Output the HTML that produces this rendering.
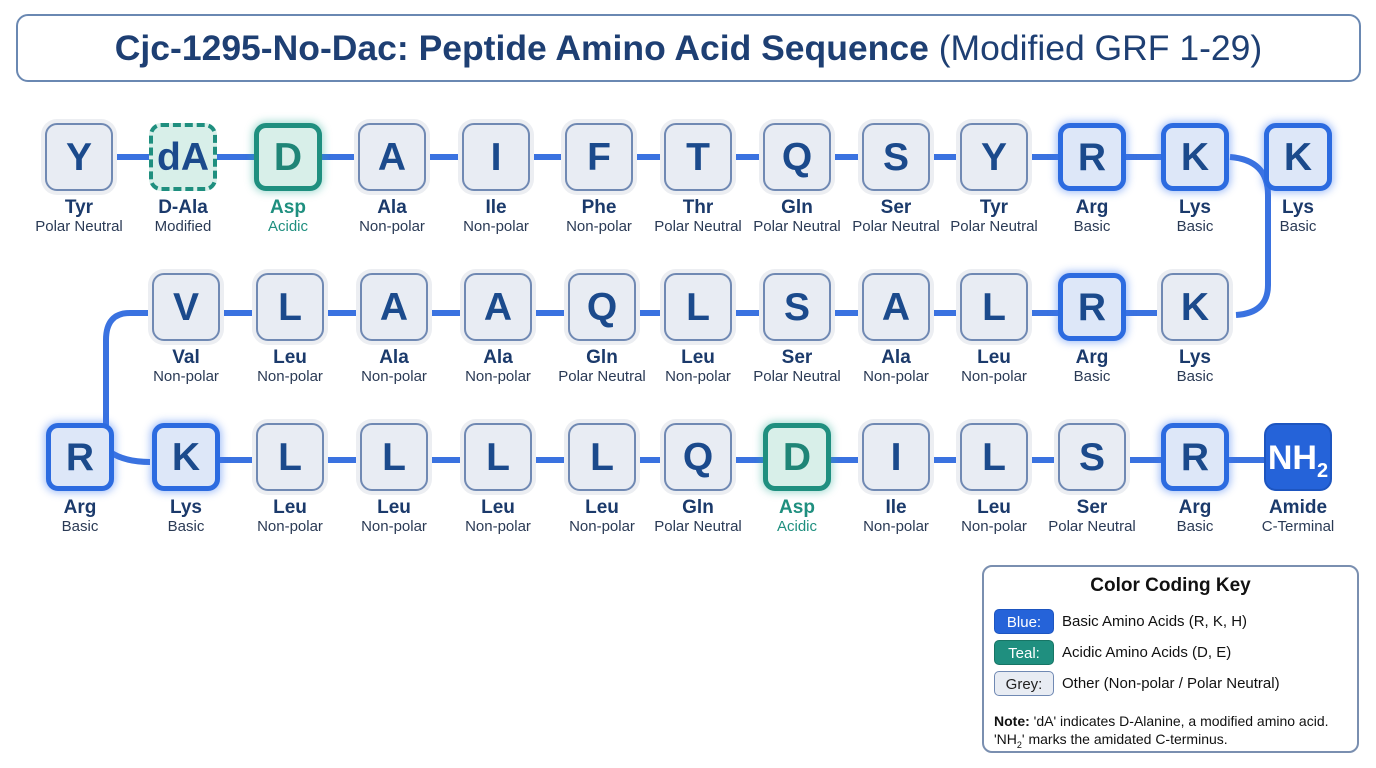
<!DOCTYPE html>
<html><head><meta charset="utf-8"><style>
body{margin:0;width:1376px;height:768px;background:#fff;font-family:"Liberation Sans",sans-serif;position:relative;overflow:hidden}
.t{position:absolute;left:16px;top:14px;width:1341px;height:64px;border:2px solid #6a88b2;border-radius:12px;text-align:center;line-height:64px;font-size:35.5px;color:#1e3f73;font-weight:bold}
.t span{font-weight:normal}
.n{position:absolute;width:68px;height:68px;border-radius:12px;box-sizing:border-box;text-align:center;line-height:66px;font-size:39px;font-weight:bold;color:#1b4a8c}
.g{background:#e8ecf3;border:2px solid #7089b3;box-shadow:0 0 0 4px #eceef2}
.b{background:#dde7f8;border:5px solid #2c6be0;line-height:60px;box-shadow:0 0 8px 2px rgba(60,120,240,.45)}
.a{background:#d8efe9;border:5px solid #1f8f7f;line-height:60px;color:#1f8577;box-shadow:0 0 8px 2px rgba(40,170,150,.4)}
.m{background:#d8efe9;border:4px dashed #1f8f7f;line-height:62px}
.h{background:#2563d9;border:2px solid #1d55c0;color:#fff;font-size:34px}
.h sub{font-size:20px}
.l{position:absolute;width:130px;text-align:center;font-size:15px;color:#2a3a55;line-height:18px}
.l b{font-size:19px;color:#1b3a6b;line-height:21px}
.l.ac,.l.ac b{color:#1f8f7f}
.k{position:absolute;left:982px;top:565px;width:377px;height:188px;border:2px solid #7a8fb0;border-radius:10px;box-sizing:border-box;font-size:15px;color:#111}
.k h3{margin:8px 0 0;text-align:center;font-size:19px}
.sw{position:absolute;left:10px;width:60px;height:25px;border-radius:5px;text-align:center;line-height:25px;font-size:15px;box-sizing:border-box}
.kt{position:absolute;left:78px}
</style></head><body>
<div class="t">Cjc-1295-No-Dac: Peptide Amino Acid Sequence <span>(Modified GRF 1-29)</span></div>
<svg width="1376" height="768" style="position:absolute;left:0;top:0" fill="none" stroke="#3a72e0" stroke-width="6">
<line x1="80" y1="157" x2="1200" y2="157"/>
<line x1="186" y1="313" x2="1195" y2="313"/>
<line x1="186" y1="460" x2="1300" y2="460"/>
<path d="M1230 157 Q1268 160 1268 195 L1268 285 Q1268 313 1236 315"/>
<path d="M150 313 L130 313 Q106 313 106 340 L106 425"/>
<path d="M110 452 Q125 462 150 462"/>
</svg>
<!-- row 1 -->
<div class="n g" style="left:45px;top:123px">Y</div><div class="l" style="left:14px;top:197px"><b>Tyr</b><br>Polar Neutral</div>
<div class="n m" style="left:149px;top:123px">dA</div><div class="l" style="left:118px;top:197px"><b>D-Ala</b><br>Modified</div>
<div class="n a" style="left:254px;top:123px">D</div><div class="l ac" style="left:223px;top:197px"><b>Asp</b><br>Acidic</div>
<div class="n g" style="left:358px;top:123px">A</div><div class="l" style="left:327px;top:197px"><b>Ala</b><br>Non-polar</div>
<div class="n g" style="left:462px;top:123px">I</div><div class="l" style="left:431px;top:197px"><b>Ile</b><br>Non-polar</div>
<div class="n g" style="left:565px;top:123px">F</div><div class="l" style="left:534px;top:197px"><b>Phe</b><br>Non-polar</div>
<div class="n g" style="left:664px;top:123px">T</div><div class="l" style="left:633px;top:197px"><b>Thr</b><br>Polar Neutral</div>
<div class="n g" style="left:763px;top:123px">Q</div><div class="l" style="left:732px;top:197px"><b>Gln</b><br>Polar Neutral</div>
<div class="n g" style="left:862px;top:123px">S</div><div class="l" style="left:831px;top:197px"><b>Ser</b><br>Polar Neutral</div>
<div class="n g" style="left:960px;top:123px">Y</div><div class="l" style="left:929px;top:197px"><b>Tyr</b><br>Polar Neutral</div>
<div class="n b" style="left:1058px;top:123px">R</div><div class="l" style="left:1027px;top:197px"><b>Arg</b><br>Basic</div>
<div class="n b" style="left:1161px;top:123px">K</div><div class="l" style="left:1130px;top:197px"><b>Lys</b><br>Basic</div>
<div class="n b" style="left:1264px;top:123px">K</div><div class="l" style="left:1233px;top:197px"><b>Lys</b><br>Basic</div>
<!-- row 2 -->
<div class="n g" style="left:152px;top:273px">V</div><div class="l" style="left:121px;top:347px"><b>Val</b><br>Non-polar</div>
<div class="n g" style="left:256px;top:273px">L</div><div class="l" style="left:225px;top:347px"><b>Leu</b><br>Non-polar</div>
<div class="n g" style="left:360px;top:273px">A</div><div class="l" style="left:329px;top:347px"><b>Ala</b><br>Non-polar</div>
<div class="n g" style="left:464px;top:273px">A</div><div class="l" style="left:433px;top:347px"><b>Ala</b><br>Non-polar</div>
<div class="n g" style="left:568px;top:273px">Q</div><div class="l" style="left:537px;top:347px"><b>Gln</b><br>Polar Neutral</div>
<div class="n g" style="left:664px;top:273px">L</div><div class="l" style="left:633px;top:347px"><b>Leu</b><br>Non-polar</div>
<div class="n g" style="left:763px;top:273px">S</div><div class="l" style="left:732px;top:347px"><b>Ser</b><br>Polar Neutral</div>
<div class="n g" style="left:862px;top:273px">A</div><div class="l" style="left:831px;top:347px"><b>Ala</b><br>Non-polar</div>
<div class="n g" style="left:960px;top:273px">L</div><div class="l" style="left:929px;top:347px"><b>Leu</b><br>Non-polar</div>
<div class="n b" style="left:1058px;top:273px">R</div><div class="l" style="left:1027px;top:347px"><b>Arg</b><br>Basic</div>
<div class="n g" style="left:1161px;top:273px">K</div><div class="l" style="left:1130px;top:347px"><b>Lys</b><br>Basic</div>
<!-- row 3 -->
<div class="n b" style="left:46px;top:423px">R</div><div class="l" style="left:15px;top:497px"><b>Arg</b><br>Basic</div>
<div class="n b" style="left:152px;top:423px">K</div><div class="l" style="left:121px;top:497px"><b>Lys</b><br>Basic</div>
<div class="n g" style="left:256px;top:423px">L</div><div class="l" style="left:225px;top:497px"><b>Leu</b><br>Non-polar</div>
<div class="n g" style="left:360px;top:423px">L</div><div class="l" style="left:329px;top:497px"><b>Leu</b><br>Non-polar</div>
<div class="n g" style="left:464px;top:423px">L</div><div class="l" style="left:433px;top:497px"><b>Leu</b><br>Non-polar</div>
<div class="n g" style="left:568px;top:423px">L</div><div class="l" style="left:537px;top:497px"><b>Leu</b><br>Non-polar</div>
<div class="n g" style="left:664px;top:423px">Q</div><div class="l" style="left:633px;top:497px"><b>Gln</b><br>Polar Neutral</div>
<div class="n a" style="left:763px;top:423px">D</div><div class="l ac" style="left:732px;top:497px"><b>Asp</b><br>Acidic</div>
<div class="n g" style="left:862px;top:423px">I</div><div class="l" style="left:831px;top:497px"><b>Ile</b><br>Non-polar</div>
<div class="n g" style="left:960px;top:423px">L</div><div class="l" style="left:929px;top:497px"><b>Leu</b><br>Non-polar</div>
<div class="n g" style="left:1058px;top:423px">S</div><div class="l" style="left:1027px;top:497px"><b>Ser</b><br>Polar Neutral</div>
<div class="n b" style="left:1161px;top:423px">R</div><div class="l" style="left:1130px;top:497px"><b>Arg</b><br>Basic</div>
<div class="n h" style="left:1264px;top:423px">NH<sub>2</sub></div><div class="l" style="left:1233px;top:497px"><b>Amide</b><br>C-Terminal</div>
<!-- key -->
<div class="k"><h3>Color Coding Key</h3>
<div class="sw" style="top:42px;background:#2563d9;color:#fff;border:1px solid #1d55c0">Blue:</div><div class="kt" style="top:46px">Basic Amino Acids (R, K, H)</div>
<div class="sw" style="top:73px;background:#1f8f7f;color:#fff;border:1px solid #177565">Teal:</div><div class="kt" style="top:77px">Acidic Amino Acids (D, E)</div>
<div class="sw" style="top:104px;background:#e8ecf3;color:#222;border:1px solid #7089b3">Grey:</div><div class="kt" style="top:108px">Other (Non-polar / Polar Neutral)</div>
<div style="position:absolute;left:10px;top:145px;font-size:14px;line-height:18px">
<b>Note:</b> 'dA' indicates D-Alanine, a modified amino acid.<br>'NH<sub style="font-size:9px">2</sub>' marks the amidated C-terminus.</div>
</div>
</body></html>
